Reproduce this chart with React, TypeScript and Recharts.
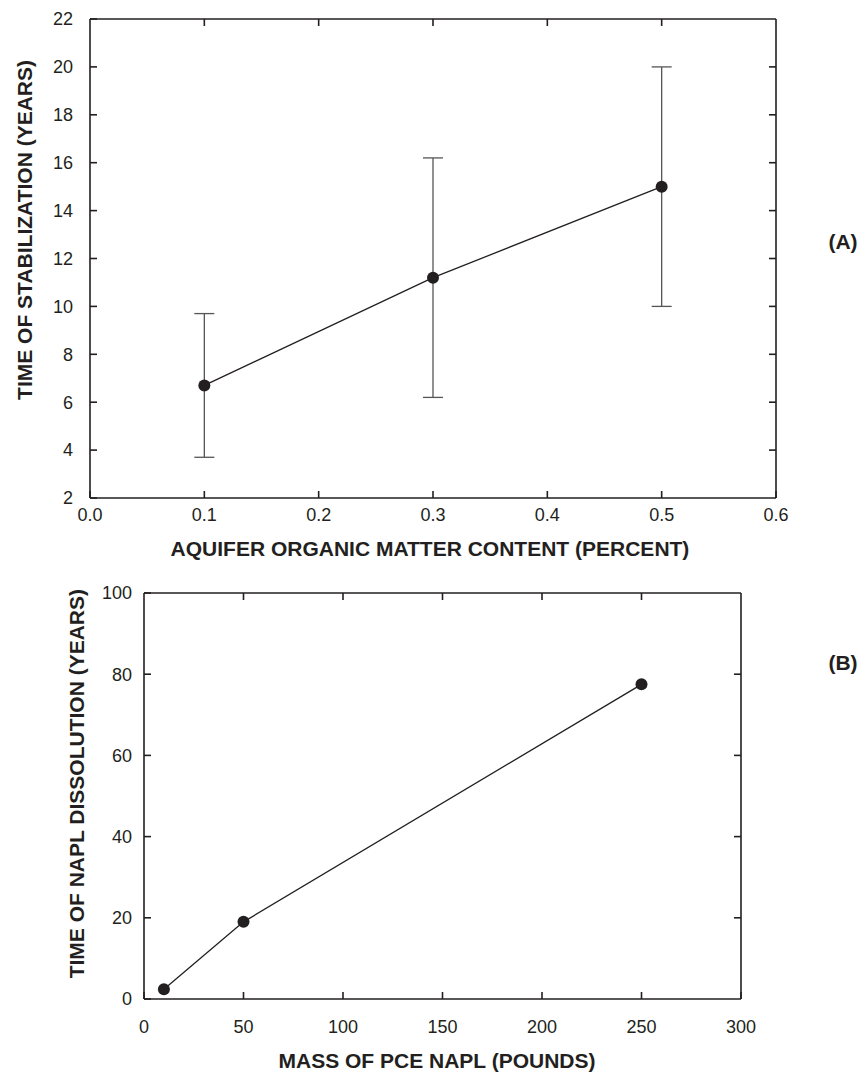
import { LineChart, Line, XAxis, YAxis, ErrorBar } from 'recharts';

// (A) time of stabilization vs aquifer organic matter content
const organicContent = [0.1, 0.3, 0.5];
const stabilizationYears = [6.7, 11.2, 15.0];
const stabilizationErr = [3, 5, 5];
const organicTicks = [0, 0.1, 0.2, 0.3, 0.4, 0.5, 0.6];
const stabilizationTicks = [2, 4, 6, 8, 10, 12, 14, 16, 18, 20, 22];

// (B) time of NAPL dissolution vs mass of PCE NAPL
const naplMass = [10, 50, 250];
const dissolutionYears = [2.4, 19.0, 77.5];
const massTicks = [0, 50, 100, 150, 200, 250, 300];
const dissolutionTicks = [0, 20, 40, 60, 80, 100];

const dataA = organicContent.map((x, i) => ({ x, y: stabilizationYears[i], err: stabilizationErr[i] }));
const dataB = naplMass.map((x, i) => ({ x, y: dissolutionYears[i] }));

const INK = '#231f20';
const FONT = '"Liberation Sans", Arial, sans-serif';
const tickStyle = { fill: INK, fontSize: 18, fontFamily: FONT };
const lineStyle = { stroke: INK, strokeWidth: 1.6 };
const blank = () => '';

export default function App() {
  return (
    <div style={{ position: 'absolute', left: 0, top: 0, width: 864, height: 1074, background: '#fff' }}>
      <div style={{ position: 'absolute', left: 0, top: 0 }}>
        <LineChart width={864} height={570} data={dataA} margin={{ top: 18, right: 87, left: 0, bottom: 0 }}>
          <XAxis
            type="number"
            dataKey="x"
            domain={[0, 0.6]}
            ticks={organicTicks}
            interval={0}
            tickFormatter={(v: number) => v.toFixed(1)}
            tickSize={-7}
            tickMargin={17}
            height={72}
            tick={tickStyle}
            axisLine={lineStyle}
            tickLine={lineStyle}
          />
          {/* top frame edge, inward ticks, no labels */}
          <XAxis
            xAxisId="top"
            orientation="top"
            type="number"
            dataKey="x"
            domain={[0, 0.6]}
            ticks={organicTicks.slice(1, -1)}
            interval={0}
            tickFormatter={blank}
            tickSize={-7}
            height={1}
            axisLine={lineStyle}
            tickLine={lineStyle}
          />
          <YAxis
            type="number"
            domain={[2, 22]}
            ticks={stabilizationTicks}
            interval={0}
            tickSize={-7}
            tickMargin={24}
            width={90}
            tick={tickStyle}
            axisLine={lineStyle}
            tickLine={lineStyle}
          />
          {/* right frame edge */}
          <YAxis
            yAxisId="right"
            orientation="right"
            type="number"
            domain={[2, 22]}
            ticks={stabilizationTicks.slice(1, -1)}
            interval={0}
            tickFormatter={blank}
            tickSize={-7}
            width={1}
            axisLine={lineStyle}
            tickLine={lineStyle}
          />
          <Line
            xAxisId="top"
            yAxisId="right"
            dataKey="y"
            stroke="none"
            dot={false}
            activeDot={false}
            legendType="none"
            isAnimationActive={false}
          />
          <Line
            type="linear"
            dataKey="y"
            stroke={INK}
            strokeWidth={1.3}
            dot={{ r: 6, fill: INK, stroke: INK, strokeWidth: 0 }}
            isAnimationActive={false}
          >
            <ErrorBar dataKey="err" direction="y" width={10} stroke="#555" strokeWidth={1.3} />
          </Line>
        </LineChart>
      </div>
      <div style={{ position: 'absolute', left: 0, top: 570 }}>
        <LineChart width={864} height={504} data={dataB} margin={{ top: 22, right: 122, left: 0, bottom: 0 }}>
          <XAxis
            type="number"
            dataKey="x"
            domain={[0, 300]}
            ticks={massTicks}
            interval={0}
            tickSize={-7}
            tickMargin={28}
            height={75}
            tick={tickStyle}
            axisLine={lineStyle}
            tickLine={lineStyle}
          />
          <XAxis
            xAxisId="top"
            orientation="top"
            type="number"
            dataKey="x"
            domain={[0, 300]}
            ticks={massTicks.slice(1, -1)}
            interval={0}
            tickFormatter={blank}
            tickSize={-7}
            height={1}
            axisLine={lineStyle}
            tickLine={lineStyle}
          />
          <YAxis
            type="number"
            domain={[0, 100]}
            ticks={dissolutionTicks}
            interval={0}
            tickSize={-7}
            tickMargin={19}
            width={144}
            tick={tickStyle}
            axisLine={lineStyle}
            tickLine={lineStyle}
          />
          <YAxis
            yAxisId="right"
            orientation="right"
            type="number"
            domain={[0, 100]}
            ticks={dissolutionTicks.slice(1, -1)}
            interval={0}
            tickFormatter={blank}
            tickSize={-7}
            width={1}
            axisLine={lineStyle}
            tickLine={lineStyle}
          />
          <Line
            xAxisId="top"
            yAxisId="right"
            dataKey="y"
            stroke="none"
            dot={false}
            activeDot={false}
            legendType="none"
            isAnimationActive={false}
          />
          <Line
            type="linear"
            dataKey="y"
            stroke={INK}
            strokeWidth={1.3}
            dot={{ r: 6, fill: INK, stroke: INK, strokeWidth: 0 }}
            isAnimationActive={false}
          />
        </LineChart>
      </div>
      <svg
        width={864}
        height={1074}
        style={{ position: 'absolute', left: 0, top: 0, pointerEvents: 'none' }}
        fontFamily={FONT}
        fontWeight="bold"
        fontSize={21}
        fill={INK}
      >
        <text x={430} y={556} textAnchor="middle">AQUIFER ORGANIC MATTER CONTENT (PERCENT)</text>
        <text x={32} y={60} textAnchor="end" transform="rotate(-90 32 60)">TIME OF STABILIZATION (YEARS)</text>
        <text x={843} y={249} textAnchor="middle">(A)</text>
        <text x={437} y={1068} textAnchor="middle">MASS OF PCE NAPL (POUNDS)</text>
        <text x={84} y={589} textAnchor="end" transform="rotate(-90 84 589)">TIME OF NAPL DISSOLUTION (YEARS)</text>
        <text x={843} y={670} textAnchor="middle">(B)</text>
      </svg>
    </div>
  );
}
